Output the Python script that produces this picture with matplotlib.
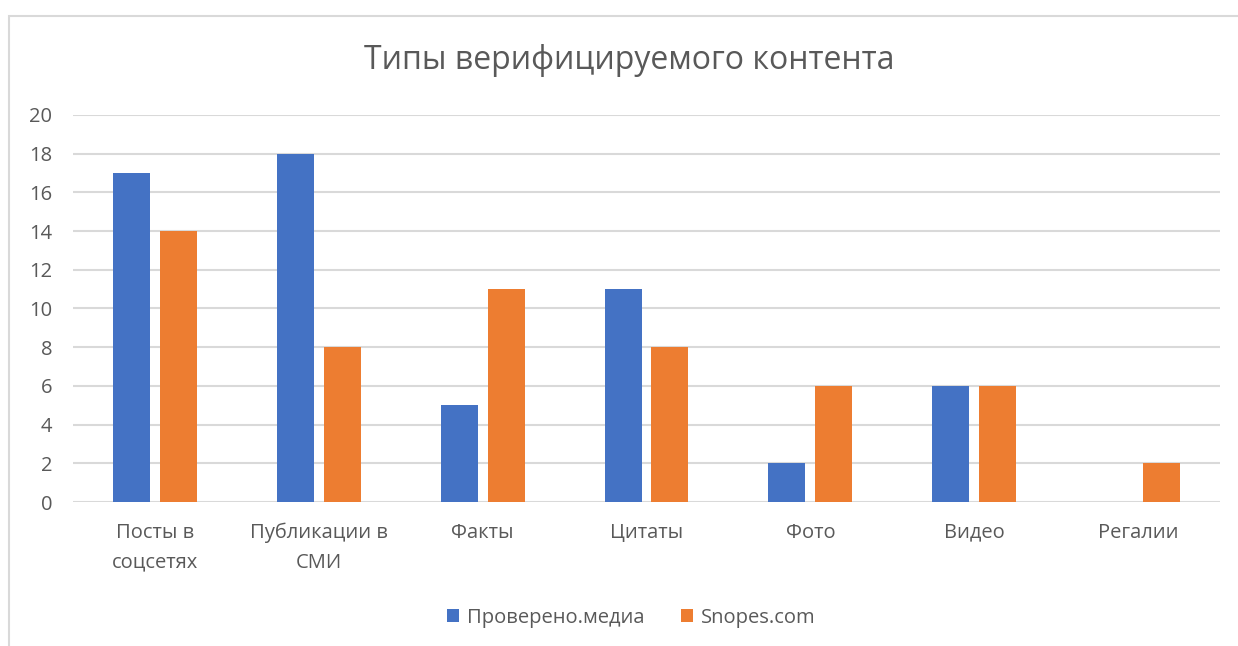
import matplotlib.pyplot as plt
import matplotlib.patches as mpatches
import numpy as np

plt.rcParams['font.family'] = ['Open Sans', 'DejaVu Sans']

categories = ['Посты в\nсоцсетях', 'Публикации в\nСМИ', 'Факты', 'Цитаты', 'Фото', 'Видео', 'Регалии']
provereno = [17, 18, 5, 11, 2, 6, 0]
snopes = [14, 8, 11, 8, 6, 6, 2]
series_names = ['Проверено.медиа', 'Snopes.com']

blue = '#4472c4'
orange = '#ed7d31'
text_c = '#595959'
grid_c = '#d9d9d9'

fig = plt.figure(figsize=(12.38, 6.46), dpi=100)
ax = fig.add_axes([0.059, 0.2229, 0.9265, 0.5991])

x = np.arange(len(categories))
w = 0.226
off = 0.143
b1 = ax.bar(x - off, provereno, w, color=blue, label=series_names[0], zorder=3)
b2 = ax.bar(x + off, snopes, w, color=orange, label=series_names[1], zorder=3)

ax.set_xlim(-0.5, len(categories) - 0.5)
ax.set_ylim(0, 20)
ax.set_yticks(np.arange(0, 21, 2))
ax.yaxis.grid(True, color=grid_c, linewidth=1.5, zorder=0)
ax.set_axisbelow(True)
for s in ax.spines.values():
    s.set_visible(False)
ax.tick_params(axis='both', length=0, colors=text_c, labelsize=14.5)
ax.tick_params(axis='y', pad=15)
ax.tick_params(axis='x', pad=15)
ax.set_xticks(x)
ax.set_xticklabels(categories, linespacing=1.62)

fig.text(0.508, 0.907, 'Типы верифицируемого контента', ha='center', va='center',
         fontsize=23, color=text_c)

leg = fig.legend(handles=[b1, b2], loc='center', bbox_to_anchor=(0.51, 0.044), ncol=2,
                 frameon=False, fontsize=14.5, handlelength=0.6, handleheight=0.6,
                 columnspacing=1.8, handletextpad=0.4)
for t in leg.get_texts():
    t.set_color(text_c)

border = mpatches.Rectangle((9 / 1238, -0.05), 1.05, 0.975 + 0.05, transform=fig.transFigure,
                            fill=False, edgecolor='#d9d9d9', linewidth=1.5)
fig.add_artist(border)

fig.savefig('out.png', dpi=100, facecolor='white')
